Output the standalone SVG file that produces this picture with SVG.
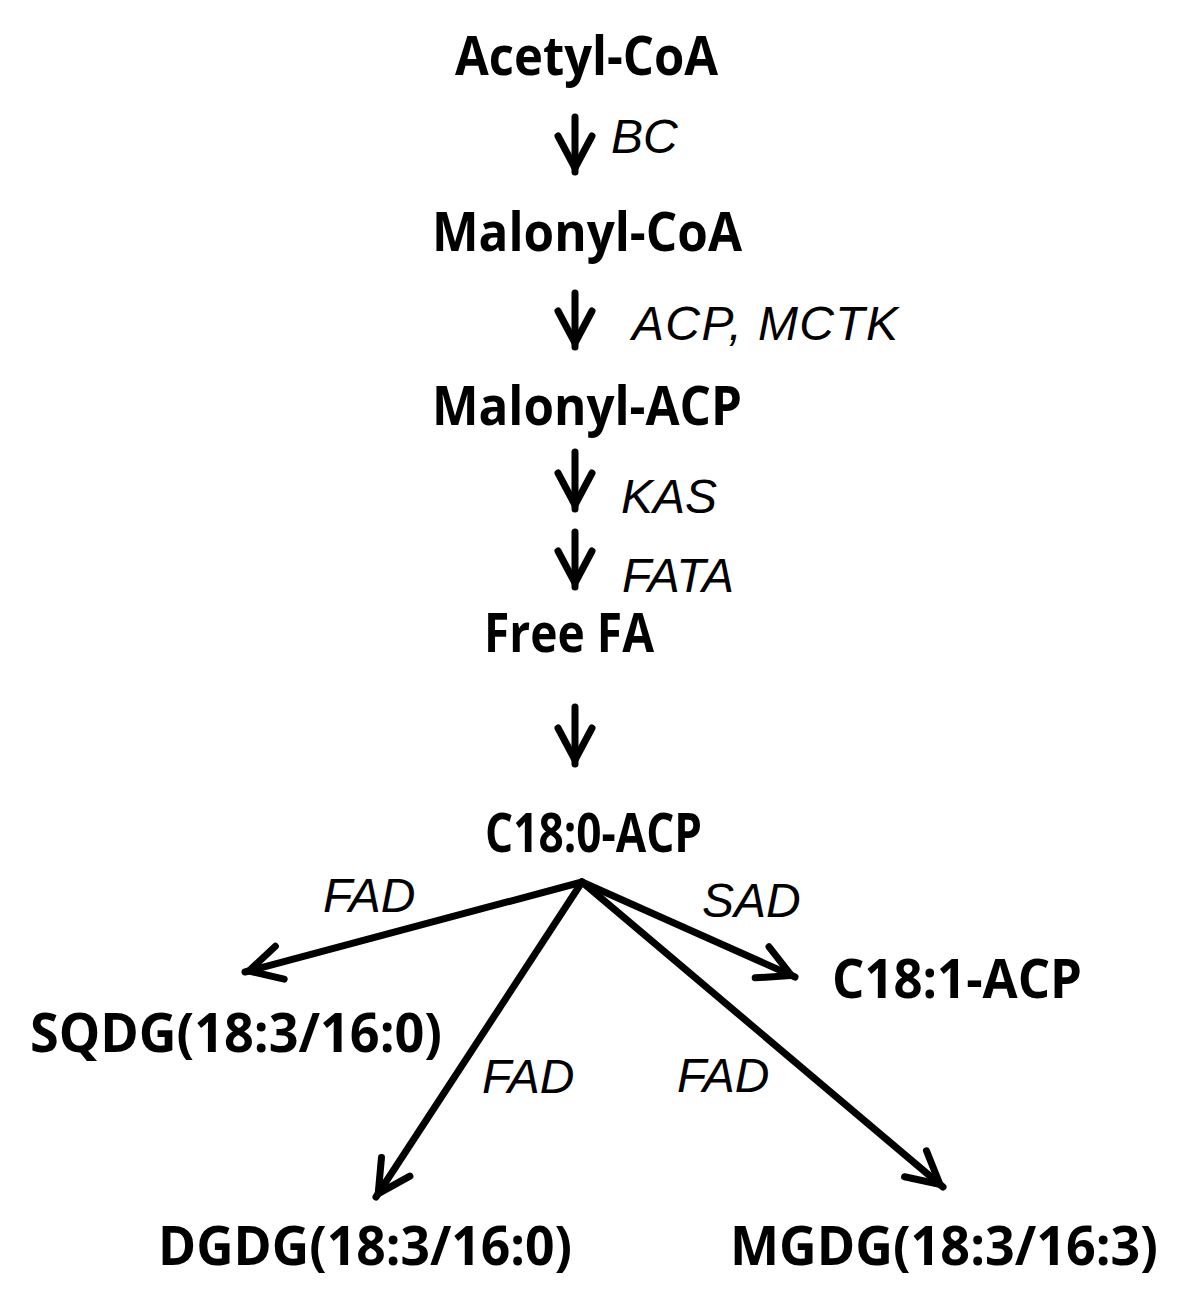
<svg xmlns="http://www.w3.org/2000/svg" width="1200" height="1313" viewBox="0 0 1200 1313">
<style>
.node{font-family:"Open Sans","Noto Sans","DejaVu Sans",sans-serif;font-weight:700;font-size:54px;fill:#000}
.lbl{font-family:"Liberation Sans",Arial,sans-serif;font-style:italic;font-size:48px;fill:#000}
.conn line{stroke:#000;stroke-width:7;stroke-linecap:round;fill:none}
</style>
<defs>
<marker id="ah" markerUnits="userSpaceOnUse" markerWidth="80" markerHeight="80" viewBox="-40 -40 80 80" refX="0" refY="0" orient="auto" overflow="visible">
<path d="M-36,-17 L-4,0 L-36,17" fill="none" stroke="#000" stroke-width="7" stroke-linecap="round" stroke-linejoin="miter"/>
</marker>
</defs>
<rect width="1200" height="1313" fill="#fff"/>
<g id="connectors" class="conn">
<line x1="575" y1="117" x2="575" y2="172" marker-end="url(#ah)"/>
<line x1="575" y1="293" x2="575" y2="347" marker-end="url(#ah)"/>
<line x1="575" y1="452" x2="575" y2="509" marker-end="url(#ah)"/>
<line x1="575" y1="532" x2="575" y2="587" marker-end="url(#ah)"/>
<line x1="575" y1="707" x2="575" y2="764" marker-end="url(#ah)"/>
<line x1="582" y1="882" x2="245" y2="972" marker-end="url(#ah)"/>
<line x1="582" y1="882" x2="376" y2="1197" marker-end="url(#ah)"/>
<line x1="582" y1="882" x2="943" y2="1187" marker-end="url(#ah)"/>
<line x1="582" y1="882" x2="795" y2="977" marker-end="url(#ah)"/>
</g>
<g id="labels">
<text class="lbl" x="611" y="153">BC</text>
<text class="lbl" x="632" y="340" textLength="266" lengthAdjust="spacing">ACP, MCTK</text>
<text class="lbl" x="621" y="513">KAS</text>
<text class="lbl" x="622" y="592">FATA</text>
<text class="lbl" x="323" y="912">FAD</text>
<text class="lbl" x="702" y="917">SAD</text>
<text class="lbl" x="482" y="1093">FAD</text>
<text class="lbl" x="677" y="1092">FAD</text>
</g>
<g id="acetyl-coa"><text class="node" x="455" y="75" textLength="263" lengthAdjust="spacingAndGlyphs">Acetyl-CoA</text></g>
<g id="malonyl-coa"><text class="node" x="432" y="251" textLength="310" lengthAdjust="spacingAndGlyphs">Malonyl-CoA</text></g>
<g id="malonyl-acp"><text class="node" x="432" y="425" textLength="310" lengthAdjust="spacingAndGlyphs">Malonyl-ACP</text></g>
<g id="free-fa"><text class="node" x="484" y="652" textLength="170" lengthAdjust="spacingAndGlyphs">Free FA</text></g>
<g id="c180-acp"><text class="node" x="485" y="852" textLength="217" lengthAdjust="spacingAndGlyphs">C18:0-ACP</text></g>
<g id="c181-acp"><text class="node" x="832" y="998" textLength="250" lengthAdjust="spacingAndGlyphs">C18:1-ACP</text></g>
<g id="sqdg"><text class="node" x="30" y="1052" textLength="412" lengthAdjust="spacingAndGlyphs">SQDG(18:3/16:0)</text></g>
<g id="dgdg"><text class="node" x="158" y="1265" textLength="414" lengthAdjust="spacingAndGlyphs">DGDG(18:3/16:0)</text></g>
<g id="mgdg"><text class="node" x="730" y="1265" textLength="428" lengthAdjust="spacingAndGlyphs">MGDG(18:3/16:3)</text></g>
</svg>
